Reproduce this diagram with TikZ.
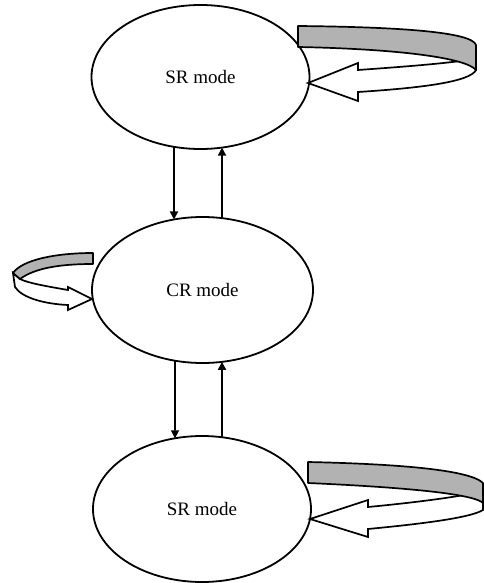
\documentclass[tikz,border=0pt]{standalone}
\usepackage{fontspec}
\setmainfont{Liberation Serif}
\usetikzlibrary{arrows.meta,shapes.geometric,calc}
\begin{document}
\begin{tikzpicture}[x=1pt,y=-1pt,
  mode/.style={draw, ellipse, line width=1.8pt, inner sep=0pt, outer sep=0pt,
    font=\fontsize{19}{22}\selectfont},
  link/.style={line width=1.7pt, -{Triangle[length=8pt,width=8pt]}},
  band/.style={draw, line width=1.7pt, fill=black!30, line join=round},
  loopshaft/.style={draw, line width=1.7pt, fill=white, line join=miter}]
\useasboundingbox (0,0) rectangle (483,583);

% the three states
\node[mode, minimum width=218pt, minimum height=144pt] (top) at (200.5,77) {SR mode};
\node[mode, minimum width=221pt, minimum height=146pt] (mid) at (202.5,290) {CR mode};
\node[mode, minimum width=218pt, minimum height=146pt] (bot) at (202,509) {SR mode};

% transitions between neighbouring states (points on the ellipse outlines)
\draw[link] ($(top.center)+(104.07:109 and 72)$) -- ($(mid.center)+(-104.95:110.5 and 73)$);
\draw[link] ($(mid.center)+(-79.84:110.5 and 73)$) -- ($(top.center)+(78.62:109 and 72)$);
\draw[link] ($(mid.center)+(104.41:110.5 and 73)$) -- ($(bot.center)+(-104.34:109 and 73)$);
\draw[link] ($(bot.center)+(-79.43:109 and 73)$) -- ($(mid.center)+(79.84:110.5 and 73)$);

% self loop on the upper state (right side)
\path[loopshaft] (308,83) -- (358,63) -- (358,70)
  .. controls (400,67) and (440,64) .. (468,60) -- (476,70)
  .. controls (470,82) and (420,88) .. (358,92) -- (358,101) -- cycle;
\path[band] (298,26) .. controls (400,27) and (472,32) .. (476,45) -- (476,70)
  .. controls (466,58) and (400,49) .. (298,47) -- cycle;

% self loop on the middle state (left side)
\path[loopshaft] (92,299) -- (68,287) -- (68,290)
  .. controls (45,286) and (28,283) .. (20,279) -- (13,273) -- (15,287)
  .. controls (22,298) and (45,304) .. (68,305) -- (68,310) -- cycle;
\path[band] (93,253) .. controls (55,253) and (22,260) .. (13,273) -- (20,279)
  .. controls (35,268) and (60,264) .. (93,264) -- cycle;

% self loop on the lower state (right side)
\path[loopshaft] (310,519) -- (368,500) -- (368,507)
  .. controls (410,503) and (450,498) .. (475,493) -- (483,503) -- (483,510)
  .. controls (470,518) and (420,524) .. (368,529) -- (368,537) -- cycle;
\path[band] (308,462) .. controls (400,464) and (470,470) .. (483,483) -- (483,503)
  .. controls (475,495) and (420,488) .. (308,483) -- cycle;
\end{tikzpicture}
\end{document}
